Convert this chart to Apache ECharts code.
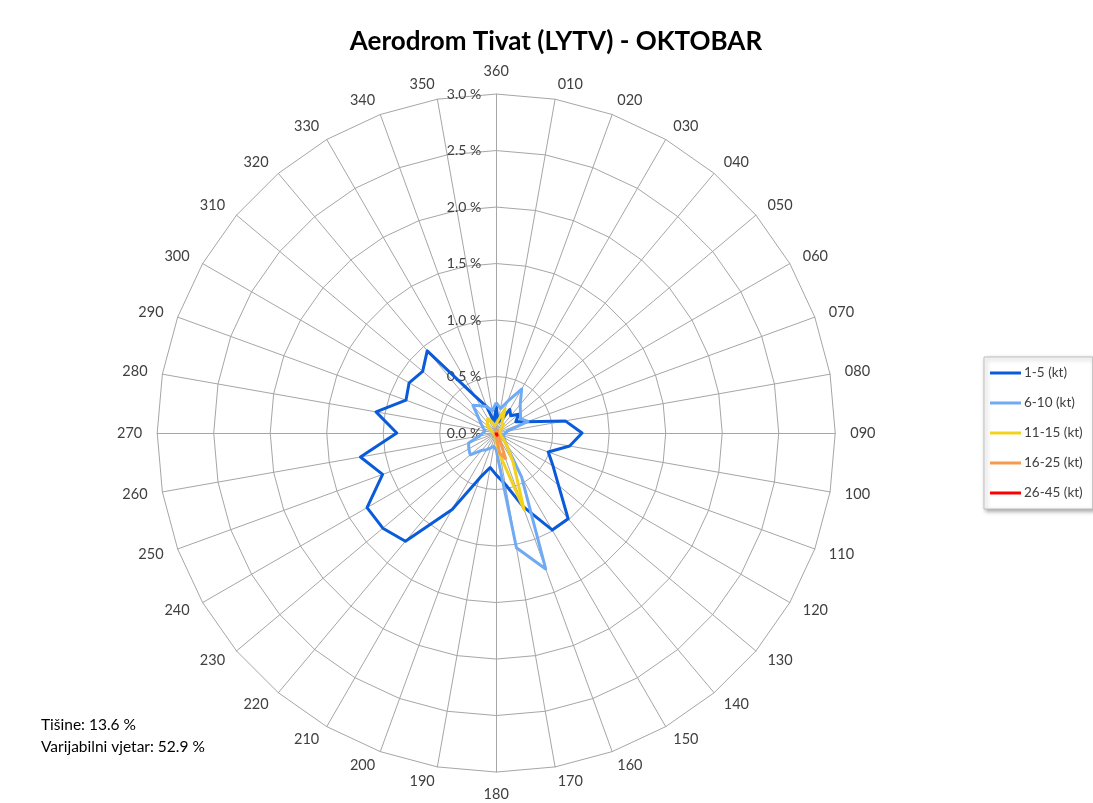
<!DOCTYPE html>
<html>
<head>
<meta charset="utf-8">
<script src="https://cdn.jsdelivr.net/npm/echarts@6/dist/echarts.min.js"></script>
<style>html,body{margin:0;padding:0;background:#fff;}#chart{width:1093px;height:803px;}</style>
</head>
<body>
<div id="chart"></div>
<script>
// Directions, clockwise from north
const directions = ['360','010','020','030','040','050','060','070','080','090','100','110','120','130','140','150','160','170','180','190','200','210','220','230','240','250','260','270','280','290','300','310','320','330','340','350'];
const seriesNames = ['1-5 (kt)','6-10 (kt)','11-15 (kt)','16-25 (kt)','26-45 (kt)'];
const seriesColors = ['#0A5BDA','#6FAAF4','#F2D21E','#F59A4E','#FF0000'];
const radiusTicks = [0, 0.5, 1.0, 1.5, 2.0, 2.5, 3.0];
// Frequencies in %, one per direction (clockwise from 360)
const speed1_5   = [0.24,0.10,0.12,0.24,0.20,0.26,0.20,0.29,0.62,0.76,0.66,0.49,0.58,0.72,0.99,0.99,0.69,0.46,0.37,0.31,0.42,0.78,1.25,1.31,1.32,1.07,1.22,0.88,1.08,0.85,0.89,0.85,0.95,0.38,0.25,0.10];
const speed6_10  = [0.27,0.22,0.30,0.45,0.33,0.28,0.25,0.30,0.10,0.08,0.07,0.07,0.08,0.10,0.14,0.45,1.28,1.03,0.15,0.12,0.14,0.17,0.20,0.30,0.28,0.26,0.15,0.12,0.10,0.12,0.15,0.20,0.32,0.28,0.25,0.20];
const speed11_15 = [0.08,0.12,0.23,0.10,0.10,0.06,0.04,0.03,0.03,0.03,0.03,0.04,0.05,0.08,0.15,0.30,0.72,0.20,0.08,0.03,0.02,0.02,0.02,0.02,0.02,0.02,0.02,0.03,0.03,0.04,0.06,0.10,0.12,0.15,0.10,0.07];
const speed16_25 = [0.01,0.01,0.02,0.02,0.01,0.01,0.01,0.01,0.01,0.01,0.01,0.01,0.01,0.02,0.03,0.06,0.24,0.18,0.03,0.01,0.01,0.01,0.01,0.01,0.01,0.01,0.01,0.01,0.01,0.01,0.01,0.01,0.01,0.01,0.01,0.01];
const speed26_45 = [0.005,0,0,0,0,0,0,0,0,0,0,0,0,0,0,0.01,0.02,0.01,0,0,0,0,0,0,0,0,0,0,0,0,0,0,0,0,0,0];
const calmText = 'Tišine: 13.6 %';
const variableText = 'Varijabilni vjetar: 52.9 %';

const allSeries = [speed1_5, speed6_10, speed11_15, speed16_25, speed26_45];
// ECharts radar places indicators counter-clockwise; reorder so directions run clockwise
function ccw(arr){ return [arr[0]].concat(arr.slice(1).reverse()); }

const font = 'Lato, "Open Sans", sans-serif';
const indicators = ccw(directions).map((d, i) => {
  const o = { name: d, min: 0, max: radiusTicks[radiusTicks.length-1] };
  if (i === 0) o.axisLabel = { show: true };
  return o;
});

const chart = echarts.init(document.getElementById('chart'), null, {renderer:'canvas'});
chart.setOption({
  animation: false,
  backgroundColor: '#ffffff',
  title: [
    { text: 'Aerodrom Tivat (LYTV) - OKTOBAR', left: 551, top: 24, textAlign: 'center',
      textStyle: { fontFamily: font, fontSize: 26, fontWeight: 'bold', color: '#000' } },
    { text: calmText + '\n' + variableText, left: 36, top: 709,
      textStyle: { fontFamily: font, fontSize: 15.5, fontWeight: 'normal', color: '#000', lineHeight: 22 } }
  ],
  legend: {
    orient: 'vertical', left: 984, top: 357,
    padding: [8, 10, 8, 6],
    backgroundColor: '#fff', borderColor: '#BFBFBF', borderWidth: 1,
    shadowColor: 'rgba(0,0,0,0.35)', shadowBlur: 4, shadowOffsetX: 2, shadowOffsetY: 2,
    itemWidth: 31, itemHeight: 3, itemGap: 14, icon: 'rect',
    textStyle: { fontFamily: font, fontSize: 13.5, color: '#404040', lineHeight: 16, padding: [0,0,0,-2] },
    data: seriesNames
  },
  radar: {
    center: ['45.4%', '53.93%'],
    radius: 339,
    startAngle: 90,
    shape: 'polygon',
    splitNumber: radiusTicks.length - 1,
    indicator: indicators,
    axisName: { color: '#404040', fontFamily: font, fontSize: 14.5 },
    nameGap: 15,
    axisLine: { lineStyle: { color: '#A6A6A6', width: 1 } },
    splitLine: { lineStyle: { color: '#A6A6A6', width: 1 } },
    splitArea: { show: false },
    axisTick: { show: false },
    axisLabel: {
      show: false, color: '#404040', fontFamily: font, fontSize: 14, margin: 15,
      formatter: v => v.toFixed(1) + ' %'
    }
  },
  series: allSeries.map((arr, i) => ({
    type: 'radar',
    name: seriesNames[i],
    symbol: 'none',
    z: 2 + i,
    lineStyle: { color: seriesColors[i], width: 3 },
    itemStyle: { color: seriesColors[i] },
    data: [{ name: seriesNames[i], value: ccw(arr) }]
  }))
});
</script>
</body>
</html>
